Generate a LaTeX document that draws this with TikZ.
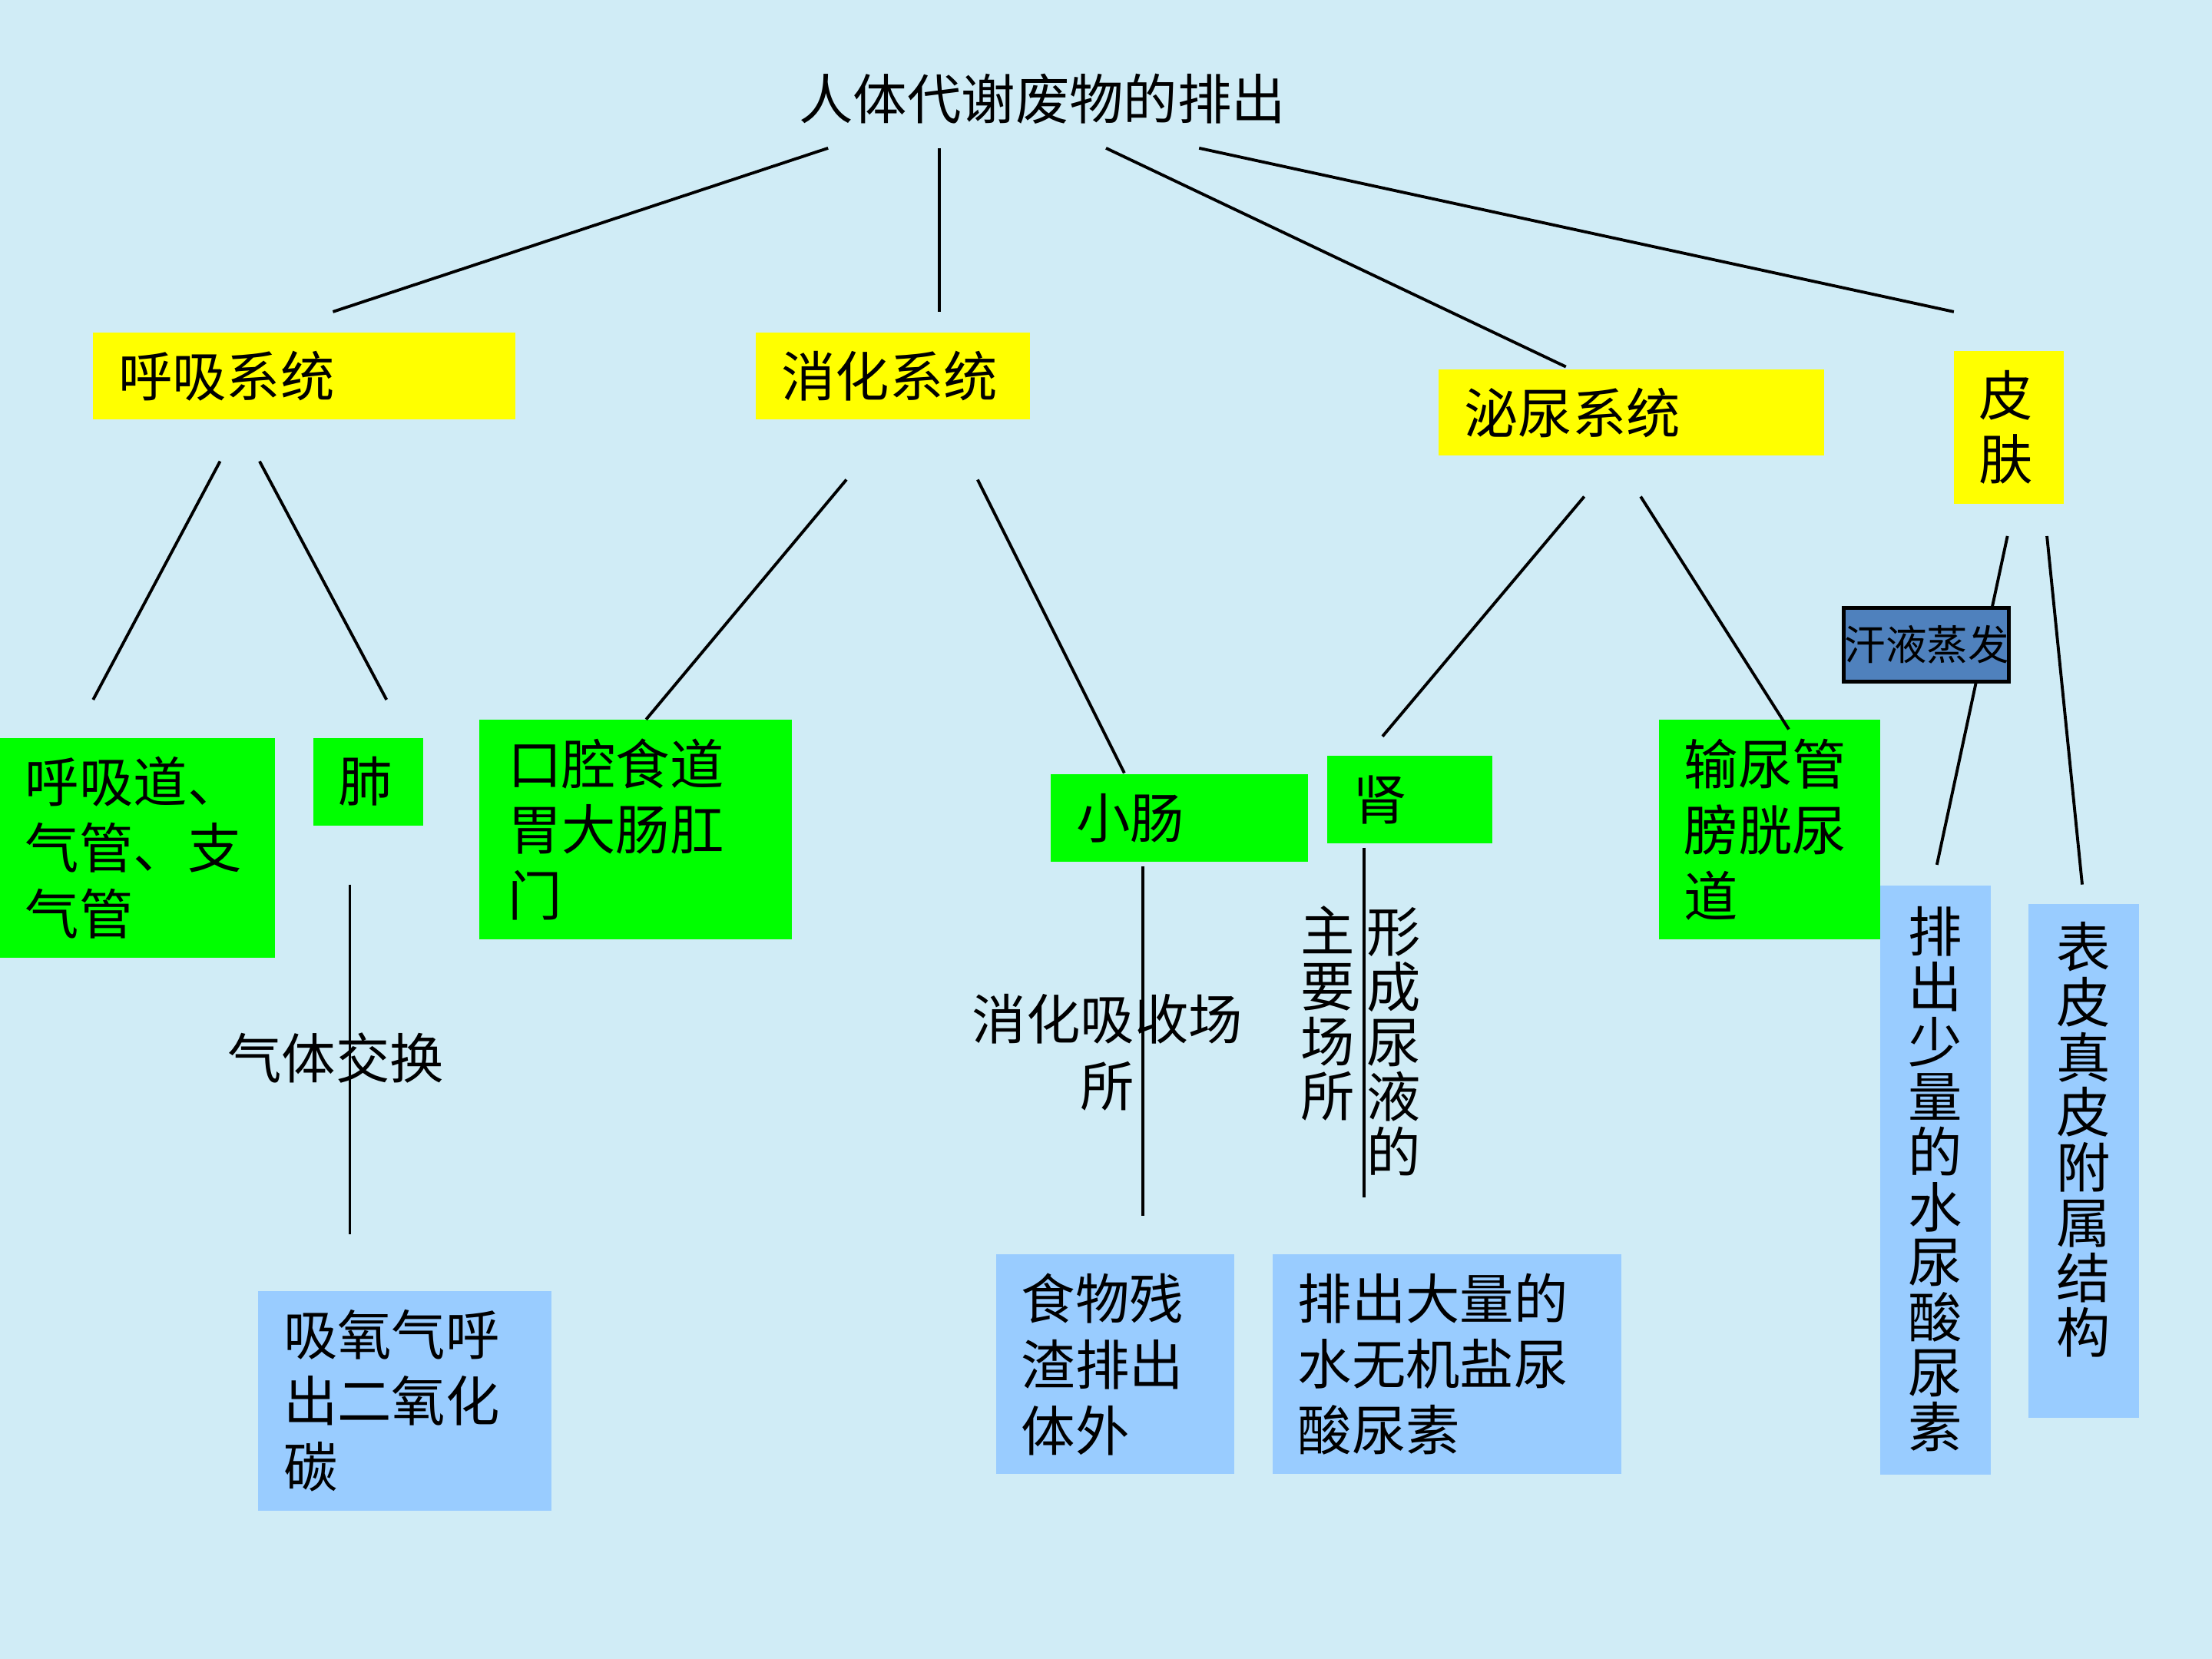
\documentclass[tikz,border=0pt]{standalone}
\usepackage{fontspec}
\setmainfont{Noto Sans CJK SC}
\definecolor{bg}{RGB}{208,236,246}
\definecolor{ybox}{RGB}{255,255,0}
\definecolor{gbox}{RGB}{0,255,0}
\definecolor{lbox}{RGB}{153,204,255}
\definecolor{dbox}{RGB}{79,129,189}
\tikzset{
  txt/.style={font=\fontsize{10.9}{13.3}\selectfont, inner sep=0pt},
  yb/.style={fill=ybox, inner xsep=0.18cm, inner ysep=0pt, align=left, font=\fontsize{10.9}{13.3}\selectfont},
  gb/.style={fill=gbox, inner xsep=0.18cm, inner ysep=0pt, align=left, font=\fontsize{10.9}{13.3}\selectfont},
  lb/.style={fill=lbox, inner xsep=0.18cm, inner ysep=0pt, align=left, font=\fontsize{10.9}{13.3}\selectfont},
  vtxt/.style={font=\fontsize{10.9}{11.1}\selectfont, align=center, inner sep=0pt},
  conn/.style={line width=0.6pt, black},
}
\begin{document}
\begin{tikzpicture}[x=0.01cm, y=-0.01cm]
\path[fill=bg, use as bounding box] (0,0) rectangle (1568,1176);

% title
\node[txt] (title) at (739,70) {人体代谢废物的排出};

% yellow boxes
\node[yb, minimum height=0.61cm, text width=2.63cm] (hx) at (215.5,266.5) {呼吸系统};
\node[yb, minimum height=0.61cm, text width=1.58cm] (xh) at (633,266.5) {消化系统};
\node[yb, minimum height=0.61cm, text width=2.37cm] (mn) at (1156.5,292.5) {泌尿系统};
\node[yb, minimum height=1.08cm, text width=0.42cm, font=\fontsize{10.9}{12.8}\selectfont] (pf) at (1424,303) {皮\\肤};

% green boxes
\node[gb, minimum height=1.56cm, text width=1.59cm] (hxd) at (97.5,601) {呼吸道、\\气管、支\\气管};
\node[gb, minimum height=0.62cm, text width=0.42cm] (fei) at (261,554) {肺};
\node[gb, minimum height=1.56cm, text width=1.81cm, inner xsep=0.2cm] (kq) at (450.5,588) {口腔食道\\胃大肠肛\\门};
\node[gb, minimum height=0.62cm, text width=1.46cm] (xc) at (836,580) {小肠};
\node[gb, minimum height=0.62cm, text width=0.81cm] (shen) at (999.5,567) {肾};
\node[gb, minimum height=1.56cm, text width=1.21cm] (sng) at (1254.5,588) {输尿管\\膀胱尿\\道};

% light blue boxes
\node[lb, minimum height=1.56cm, text width=1.72cm] (xy) at (287,993) {吸氧气呼\\出二氧化\\碳};
\node[lb, minimum height=1.56cm, text width=1.33cm] (sw) at (790.5,967) {食物残\\渣排出\\体外};
\node[lb, minimum height=1.56cm, text width=2.11cm] (pc) at (1025.5,967) {排出大量的\\水无机盐尿\\酸尿素};
\node[fill=lbox, minimum width=0.78cm, minimum height=4.17cm, inner sep=0pt] (ps) at (1372,836.5) {};
\node[vtxt] (pst) at (1372,836) {排\\出\\少\\量\\的\\水\\尿\\酸\\尿\\素};
\node[fill=lbox, minimum width=0.78cm, minimum height=3.64cm, inner sep=0pt] (bp) at (1477,823) {};
\node[vtxt] (bpt) at (1477,808) {表\\皮\\真\\皮\\附\\属\\结\\构};

% connector endpoints
\coordinate (t1) at (587,105); \coordinate (a1) at (236,221);
\coordinate (t2) at (666,105); \coordinate (a2) at (666,221);
\coordinate (t3) at (784,105); \coordinate (a3) at (1110,260);
\coordinate (t4) at (850,105); \coordinate (a4) at (1385,221);

\coordinate (h1) at (156,327); \coordinate (b1) at (66,496);
\coordinate (h2) at (184,327); \coordinate (b2) at (274,496);
\coordinate (x1) at (600,340); \coordinate (b3) at (458,510);
\coordinate (x2) at (693,340); \coordinate (b4) at (797,548);
\coordinate (m1) at (1123,352); \coordinate (b5) at (980,522);
\coordinate (m2) at (1163,352); \coordinate (b6) at (1268,517);
\coordinate (p1) at (1423,380); \coordinate (b7) at (1373,613);
\coordinate (p2) at (1451,380); \coordinate (b8) at (1476,627);

\coordinate (v1a) at (248,627); \coordinate (v1b) at (248,875);
\coordinate (v2a) at (810,614); \coordinate (v2b) at (810,862);
\coordinate (v3a) at (967,601); \coordinate (v3b) at (967,849);

\foreach \s/\e in {t1/a1,t2/a2,t3/a3,t4/a4,h1/b1,h2/b2,x1/b3,x2/b4,m1/b5,m2/b6,p1/b7,p2/b8,v1a/v1b,v2a/v2b,v3a/v3b}
  \draw[conn] (\s) -- (\e);

% sweat box (on top of its connector)
\node[draw=black, line width=0.8pt, fill=dbox, minimum width=1.17cm, minimum height=0.52cm, inner sep=0pt] (hy) at (1365.5,457) {};
\node[font=\fontsize{8.3}{9}\selectfont, inner sep=0pt] (hyt) at (1366,457) {汗液蒸发};

% edge labels
\node[txt] (l1) at (238,750) {气体交换};
\node[txt, align=center, font=\fontsize{10.9}{13.6}\selectfont] (l2) at (785,746) {消化吸收场\\所};
\node[vtxt] (l3) at (988,738.5) {形\\成\\尿\\液\\的};
\node[vtxt] (l4) at (941,718.5) {主\\要\\场\\所};
\end{tikzpicture}
\end{document}
